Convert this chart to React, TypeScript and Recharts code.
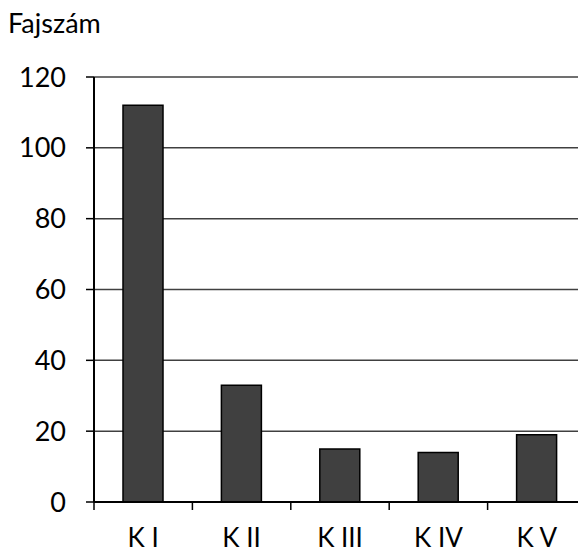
import React from "react";
import { BarChart, Bar, XAxis, YAxis, CartesianGrid } from "recharts";

const categories = ["K I", "K II", "K III", "K IV", "K V"];
const counts = [112, 33, 15, 14, 19];
const yTicks = [0, 20, 40, 60, 80, 100, 120];

const data = categories.map((name, i) => ({ name, value: counts[i] }));

const FONT = "Lato, 'Open Sans', sans-serif";

// category ticks sit on the band boundaries, labels in the middle
const BandTick = (props: any) => {
  const { x, y, payload } = props;
  const half = payload && payload.offset ? payload.offset : 49.2;
  return (
    <g>
      <line x1={x - half} x2={x - half} y1={y - 8} y2={y} stroke="#000" strokeWidth={1.5} />
      <text x={x} y={y + 37} textAnchor="middle" fontSize={26} fontFamily={FONT} fill="#000">
        {payload.value}
      </text>
    </g>
  );
};

const App = () => {
  return (
    <div style={{ position: "relative", width: 578, height: 545, background: "#fff" }}>
      <div
        style={{
          position: "absolute",
          left: 0,
          top: 0,
          fontFamily: FONT,
          fontSize: 27,
          lineHeight: "30px",
          color: "#000",
        }}
      >
        Fajszám
      </div>
      <BarChart
        width={578}
        height={545}
        data={data}
        margin={{ top: 69, right: 0, left: 26, bottom: 3 }}
        barCategoryGap={0}
      >
        <CartesianGrid vertical={false} stroke="#404040" strokeWidth={1.5} />
        <XAxis
          dataKey="name"
          height={48}
          axisLine={{ stroke: "#000", strokeWidth: 2 }}
          tickLine={false}
          tick={<BandTick />}
          interval={0}
        />
        <YAxis
          width={60}
          domain={[0, 120]}
          ticks={yTicks}
          axisLine={{ stroke: "#000", strokeWidth: 2 }}
          tickLine={{ stroke: "#000", strokeWidth: 1.5 }}
          tickSize={8}
          tickMargin={20}
          tick={{ fontSize: 27, fontFamily: FONT, fill: "#000" }}
        />
        <Bar
          dataKey="value"
          barSize={40}
          fill="#404040"
          stroke="#000"
          strokeWidth={1.5}
          isAnimationActive={false}
        />
      </BarChart>
    </div>
  );
};

export default App;
